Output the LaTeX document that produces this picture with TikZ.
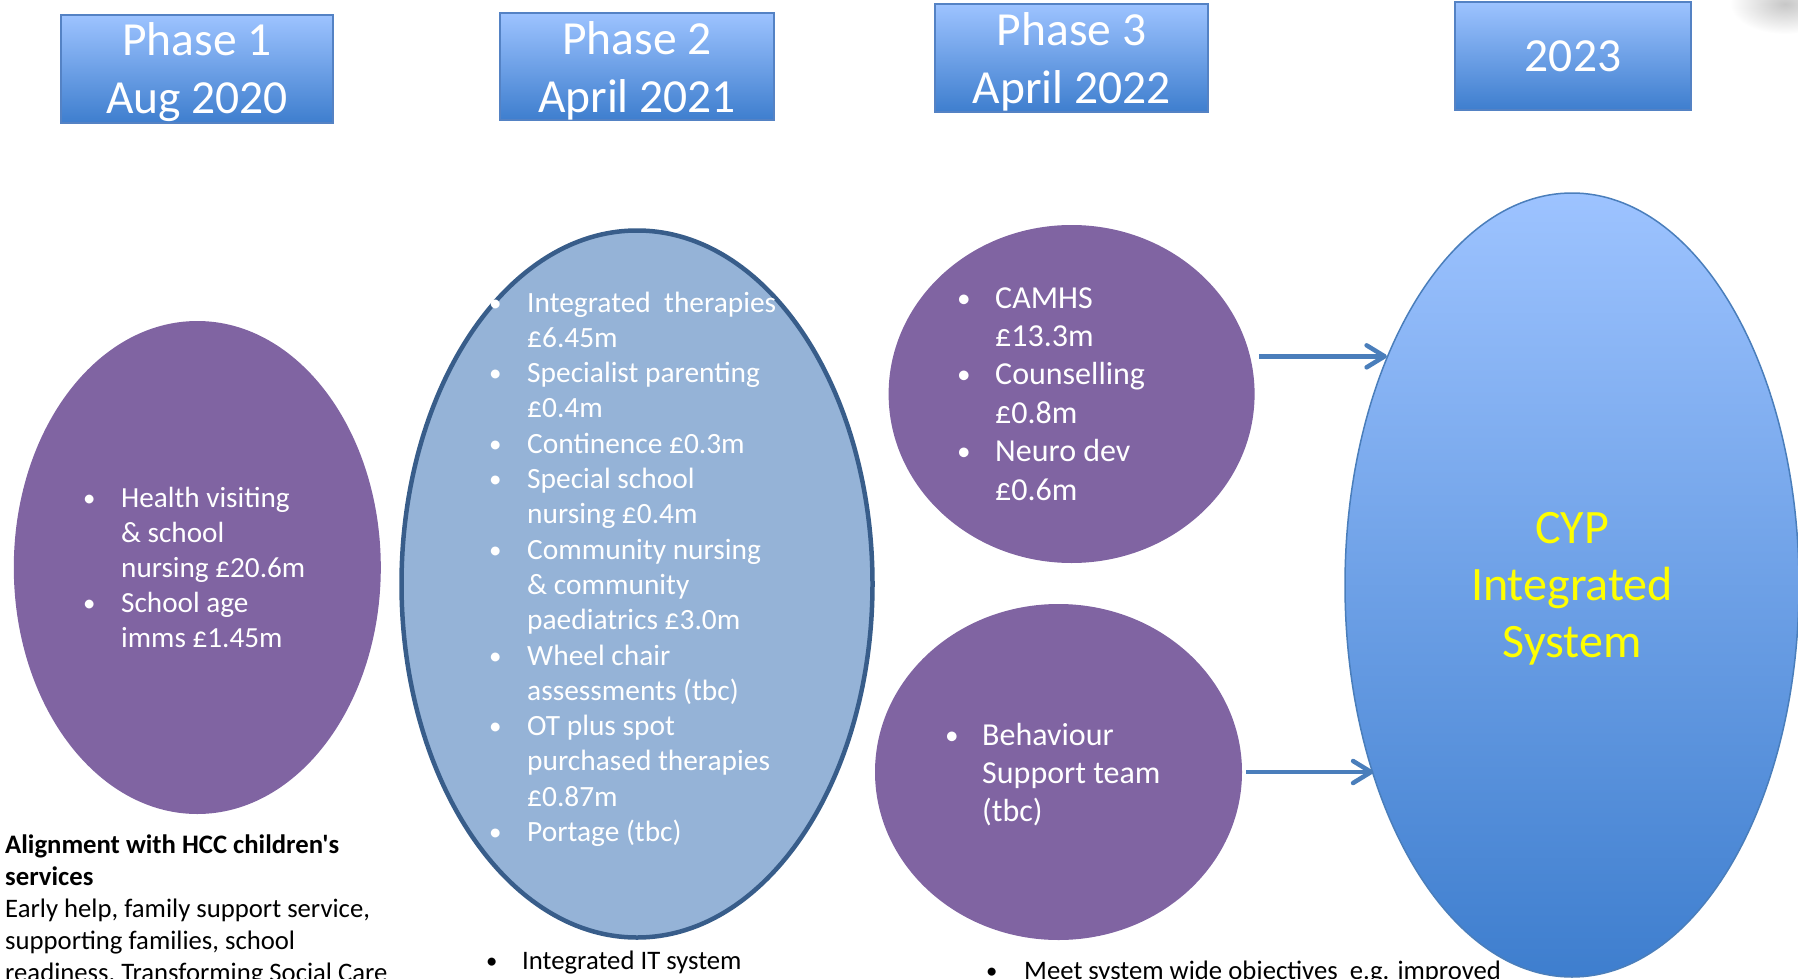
\documentclass[tikz,border=0pt]{standalone}
\usepackage{fontspec}
\newfontfamily\carl{Carlito}
\usetikzlibrary{shapes.geometric,arrows.meta}
\definecolor{purp}{RGB}{128,100,162}
\definecolor{blgrey}{RGB}{149,179,215}
\definecolor{blborder}{RGB}{56,93,138}
\definecolor{gtop}{RGB}{157,195,255}
\definecolor{gbot}{RGB}{62,126,206}
\definecolor{arrblue}{RGB}{74,126,187}
\definecolor{boxedge}{RGB}{84,130,196}
\definecolor{cypyellow}{RGB}{255,255,0}
\newcommand{\blt}[1]{\makebox[#1][l]{\hspace*{-6pt}\raisebox{1pt}{\scalebox{0.85}{\textbullet}}}}
\newcommand{\ind}[1]{\hspace*{#1}}
\newcommand{\linesl}[1]{\begin{tabular}[t]{@{}l@{}}#1\end{tabular}}
\newcommand{\linesc}[1]{\begin{tabular}[t]{@{}c@{}}#1\end{tabular}}
\tikzset{
  hdrbox/.style={rectangle, draw=boxedge, line width=1.5pt, top color=gtop, bottom color=gbot, inner sep=0pt},
  hdrtxt/.style={anchor=base, inner sep=0pt, text=white, font=\carl\fontsize{47.5}{58}\selectfont},
  purpell/.style={ellipse, fill=purp, draw=none, inner sep=0pt},
  bigell/.style={ellipse, fill=blgrey, draw=blborder, line width=4.5pt, inner sep=0pt},
  cypell/.style={ellipse, draw=arrblue, line width=1.5pt, top color=gtop, bottom color=gbot, inner sep=0pt},
  elltxt/.style={anchor=base west, inner sep=0pt, text=white},
  blacktxt/.style={anchor=base west, inner sep=0pt, text=black, font=\carl\fontsize{26.7}{32}\selectfont},
  arr/.style={draw=arrblue, line width=4.5pt, -{Straight Barb[length=18pt,width=22pt,round]}}
}
\begin{document}
\begin{tikzpicture}[x=1pt,y=-1pt]
\useasboundingbox (0,0) rectangle (1798,979);
\clip (0,0) rectangle (1798,979);
% faint grey smudge top right
\shade[inner color=black!22, outer color=white] (1785,4) ellipse [x radius=55pt, y radius=30pt];
% header boxes
\node[hdrbox, minimum width=272pt, minimum height=108pt] (h1) at (197,69) {};
\node[hdrbox, minimum width=274pt, minimum height=107pt] (h2) at (637,66.5) {};
\node[hdrbox, minimum width=273pt, minimum height=108pt] (h3) at (1071.5,58) {};
\node[hdrbox, minimum width=236pt, minimum height=108pt] (h4) at (1573,56) {};
\node[hdrtxt] (h1t) at (197,56) {\linesc{Phase 1\\Aug 2020}};
\node[hdrtxt] (h2t) at (637,55) {\linesc{Phase 2\\April 2021}};
\node[hdrtxt] (h3t) at (1071.5,46) {\linesc{Phase 3\\April 2022}};
\node[hdrtxt] (h4t) at (1573,72) {2023};
% ellipses
\node[purpell, minimum width=367pt, minimum height=493pt] (e1) at (197.3,567.5) {};
\node[bigell, minimum width=471pt, minimum height=707pt] (e2) at (637,584) {};
\node[purpell, minimum width=366pt, minimum height=338pt] (e3) at (1071.6,394) {};
\node[purpell, minimum width=367pt, minimum height=336pt] (e4) at (1058.5,772) {};
\node[cypell, minimum width=454pt, minimum height=784pt] (e5) at (1572,585) {};
% arrows
\coordinate (a1s) at ([xshift=4pt]e3.east);
\draw[arr] (a1s |- e5.129) -- (e5.129);
\draw[arr] ([xshift=4pt]e4.east) -- (e4.east -| e5.224);
% ellipse texts
\node[elltxt, font=\carl\fontsize{29.2}{35}\selectfont] (t1) at (89,507) {\linesl{%
\blt{32pt}Health visiting\\
\ind{32pt}\& school\\
\ind{32pt}nursing £20.6m\\
\blt{32pt}School age\\
\ind{32pt}imms £1.45m}};
\node[elltxt, font=\carl\fontsize{29.4}{35.3}\selectfont] (t2) at (495,312) {\linesl{%
\blt{32pt}Integrated\ \ therapies\\
\ind{32pt}£6.45m\\
\blt{32pt}Specialist parenting\\
\ind{32pt}£0.4m\\
\blt{32pt}Continence £0.3m\\
\blt{32pt}Special school\\
\ind{32pt}nursing £0.4m\\
\blt{32pt}Community nursing\\
\ind{32pt}\& community\\
\ind{32pt}paediatrics £3.0m\\
\blt{32pt}Wheel chair\\
\ind{32pt}assessments (tbc)\\
\blt{32pt}OT plus spot\\
\ind{32pt}purchased therapies\\
\ind{32pt}£0.87m\\
\blt{32pt}Portage (tbc)}};
\node[elltxt, font=\carl\fontsize{32}{38.4}\selectfont] (t3) at (963,308) {\linesl{%
\blt{32pt}CAMHS\\
\ind{32pt}£13.3m\\
\blt{32pt}Counselling\\
\ind{32pt}£0.8m\\
\blt{32pt}Neuro dev\\
\ind{32pt}£0.6m}};
\node[elltxt, font=\carl\fontsize{32}{38}\selectfont] (t4) at (951,745) {\linesl{%
\blt{31pt}Behaviour\\
\ind{31pt}Support team\\
\ind{31pt}(tbc)}};
\node[anchor=base, inner sep=0pt, text=cypyellow, font=\carl\fontsize{48}{57}\selectfont] (t5) at (1572,543) {\linesc{CYP\\Integrated\\System}};
% bottom texts
\node[blacktxt] (b1) at (5,853) {\linesl{%
\textbf{Alignment with HCC children's}\\
\textbf{services}\\
Early help, family support service,\\
supporting families, school\\
readiness, Transforming Social Care}};
\node[blacktxt] (b2) at (492,969) {\blt{30pt}Integrated IT system};
\node[blacktxt] (b3) at (992,979) {\blt{32pt}Meet system wide objectives\ \ e.g. improved};
\end{tikzpicture}
\end{document}
